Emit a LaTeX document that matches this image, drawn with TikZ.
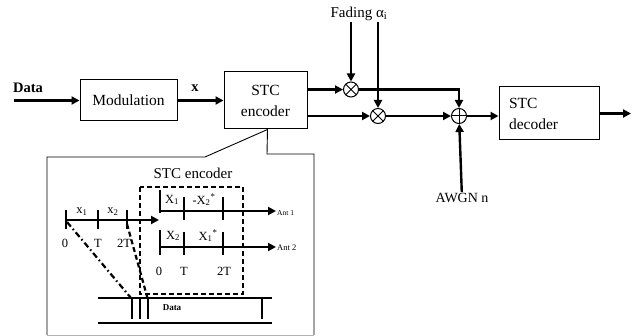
\documentclass[tikz,border=0pt]{standalone}
\usepackage{fontspec}
\setmainfont{Liberation Serif}
\usetikzlibrary{arrows.meta, positioning, calc}

\begin{document}
\begin{tikzpicture}[x=1pt, y=-1pt,
    blk/.style={rectangle, draw, line width=1pt, align=center,
      font=\fontsize{15.5}{21}\selectfont, inner sep=2pt},
    ar/.style={-{Triangle[length=8pt, width=8pt]}, line width=2.4pt},
    mult/.style={circle, draw, line width=1pt, minimum size=15pt, inner sep=0pt,
      path picture={\draw[line width=1pt] (path picture bounding box.center)
        +(45:9pt) -- +(225:9pt) +(135:9pt) -- +(-45:9pt);}},
    addr/.style={circle, draw, line width=1pt, minimum size=15pt, inner sep=0pt,
      path picture={\draw[line width=1pt] (path picture bounding box.center)
        +(0:9pt) -- +(180:9pt) +(90:9pt) -- +(270:9pt);}},
    lbl/.style={font=\fontsize{15}{18}\selectfont, inner sep=1pt},
    sml/.style={font=\fontsize{12.5}{14}\selectfont, inner sep=0pt},
    tick/.style={line width=1.1pt},
    dsh/.style={line width=2.2pt, dash pattern=on 5pt off 3pt}]
    \useasboundingbox (0,0) rectangle (632,336);
    % cadena principal
    \node[blk, minimum width=97pt, minimum height=41pt] (mod) at (128.5,100.5) {Modulation};
    \node[blk, minimum width=83pt, minimum height=57pt, right=46pt of mod] (enc) {STC\\encoder};
    \node[mult] (m1) at (351,89.5) {};
    \node[mult] (m2) at (378,116) {};
    \node[addr] (add) at (459,116) {};
    \node[blk, minimum width=100pt, minimum height=53pt, align=left, text width=80pt] (dec) at (549,113.5) {STC\\decoder};
    \coordinate (in) at (14,100.5);
    \coordinate (out) at (631,113.5);
    \node[lbl, font=\fontsize{14.5}{17}\selectfont\bfseries] (dat) at (28,88) {Data};
    \node[lbl, font=\fontsize{14.5}{17}\selectfont\bfseries] (xl) at (195,88) {x};
    \node[lbl] (fad) at (359,14) {Fading α\textsubscript{i}};
    \node[lbl, font=\fontsize{14}{17}\selectfont] (awgn) at (462,198) {AWGN n};
    \draw[ar] (in) -- (mod);
    \draw[ar] (mod) -- (enc);
    \draw[ar] (enc.east |- m1) -- (m1);
    \draw[ar] (enc.east |- m2) -- (m2);
    \draw[ar] (m1.east) -| (add.north);
    \draw[ar] (m2) -- (add);
    \draw[ar] (m1 |- fad.south) -- (m1);
    \draw[ar] (m2 |- fad.south) -- (m2);
    \draw[ar] (awgn) -- (add);
    \draw[ar] (add) -- (add -| dec.west);
    \draw[ar] (dec.east |- out) -- (out);
    % detalle del codificador
    \coordinate (tip) at ($(enc.south)+(2pt,0)$);
    \draw[line width=0.9pt] (47,335) -- (47,157) -- (205,157) -- (tip) -- (267,154) -- (314,154) -- (314,335);
    \draw[line width=0.9pt, gray!60] (47,335) -- (314,335);
    \node[lbl] (stcl) at (193,173) {STC encoder};
    \draw[dsh] (140,187) rectangle (243,294);
    % eje de entrada
    \draw[ar] (66,220) -- (159,220);
    \foreach \x in {66,98,127} \draw[tick] (\x,210) -- (\x,229);
    \node[sml] (i1) at (82,212) {x\textsubscript{1}};
    \node[sml] (i2) at (113,212) {x\textsubscript{2}};
    \node[sml] (t0) at (65,243) {0};
    \node[sml] (t1) at (98,243) {T};
    \node[sml] (t2) at (124,243) {2T};
    % salidas a las antenas
    \draw[tick] (160,190) -- (160,213);
    \draw[tick] (160,230) -- (160,255);
    \draw[ar] (160,211) -- (276,211);
    \draw[ar] (160,247) -- (276,247);
    \foreach \x in {184,223} {
      \draw[tick] (\x,197) -- (\x,220);
      \draw[tick] (\x,232) -- (\x,255);
    }
    \node[sml] (a1) at (172,200) {X\textsubscript{1}};
    \node[sml] (a2) at (204,200) {-X\textsubscript{2}\textsuperscript{*}};
    \node[sml] (b1) at (173,236) {X\textsubscript{2}};
    \node[sml] (b2) at (208,236) {X\textsubscript{1}\textsuperscript{*}};
    \node[font=\fontsize{7.5}{8}\selectfont, anchor=west, inner sep=0pt] (ant1) at (277,213) {Ant 1};
    \node[font=\fontsize{8.5}{9}\selectfont, anchor=west, inner sep=0pt] (ant2) at (277,248) {Ant 2};
    \node[sml] (r0) at (159,271) {0};
    \node[sml] (r1) at (184,271) {T};
    \node[sml] (r2) at (224,271) {2T};
    % bloque de datos
    \draw[line width=2.2pt, dash pattern=on 6pt off 3pt on 1.5pt off 3pt] (67,222) -- (131,298);
    \draw[dsh] (127,224) -- (148,300);
    \draw[tick] (98,298) -- (272,298);
    \draw[tick] (98,323) -- (272,323);
    \foreach \x in {132,140,148,262} \draw[tick] (\x,298) -- (\x,319);
    \node[font=\fontsize{9}{10}\selectfont\bfseries] (dbar) at (172,308) {Data};
\end{tikzpicture}
\end{document}
